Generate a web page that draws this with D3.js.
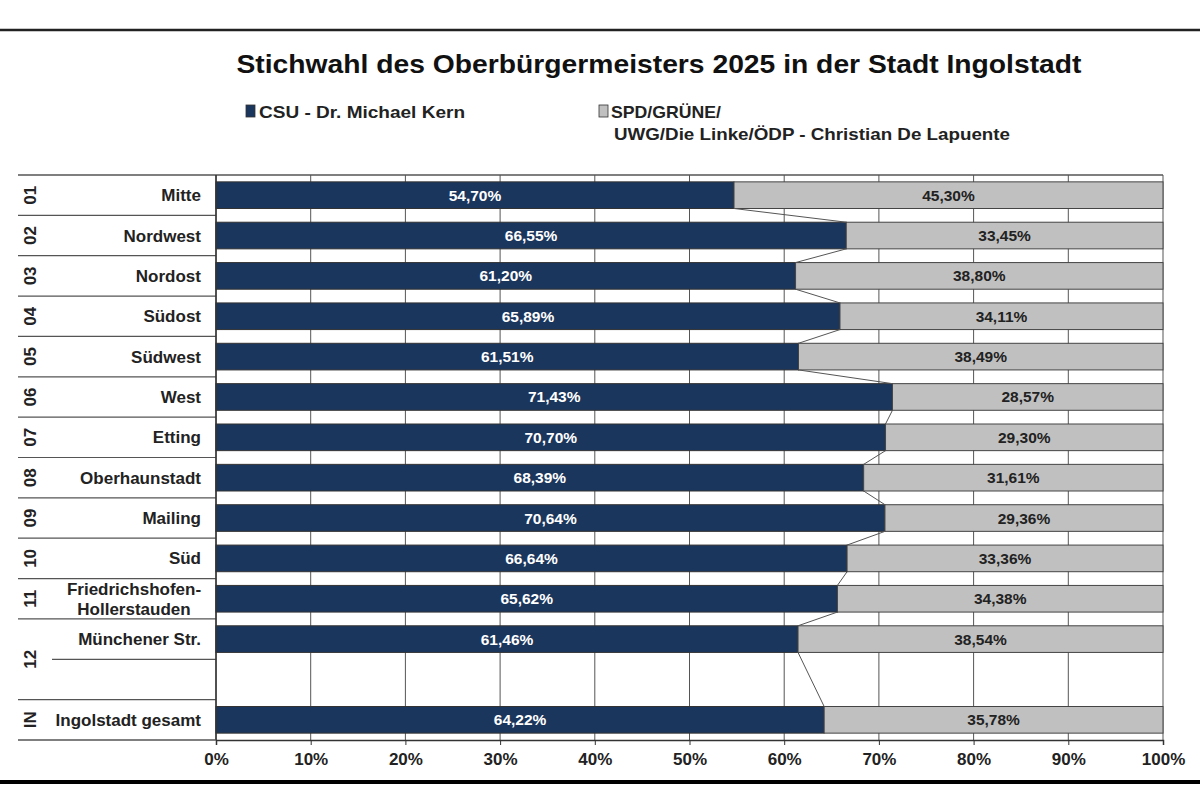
<!DOCTYPE html>
<html><head><meta charset="utf-8">
<script src="https://cdn.jsdelivr.net/npm/d3@7"></script>
<style>body{margin:0;background:#fff}svg{display:block}text{font-family:"Liberation Sans",Arial,sans-serif;font-weight:bold}</style>
</head><body>
<script>
const codes = ["01","02","03","04","05","06","07","08","09","10","11","12","IN"];
const names = ["Mitte","Nordwest","Nordost","Südost","Südwest","West","Etting","Oberhaunstadt","Mailing","Süd","Friedrichshofen-\nHollerstauden","Münchener Str.","Ingolstadt gesamt"];
const csu = [54.70,66.55,61.20,65.89,61.51,71.43,70.70,68.39,70.64,66.64,65.62,61.46,64.22];
const spd = [45.30,33.45,38.80,34.11,38.49,28.57,29.30,31.61,29.36,33.36,34.38,38.54,35.78];
const ticks = [0,10,20,30,40,50,60,70,80,90,100];
const slots = ["01","02","03","04","05","06","07","08","09","10","11","12","blank","IN"];

const W=1200,H=800;
const svg=d3.select("body").append("svg").attr("width",W).attr("height",H);
const navy="#1b365d", grey="#c0c0c0";

const x=d3.scaleLinear().domain([0,100]).range([216,1163]);
const y=d3.scaleBand().domain(slots).range([175,740]).padding(0);
const barPad=0.17;
const bh=y.bandwidth()*(1-2*barPad);
const by=c=>y(c)+y.bandwidth()*barPad;

// frame lines
svg.append("line").attr("x1",0).attr("x2",W).attr("y1",30).attr("y2",30).attr("stroke","#222").attr("stroke-width",2.5);
svg.append("line").attr("x1",0).attr("x2",W).attr("y1",782).attr("y2",782).attr("stroke","#000").attr("stroke-width",4);

// title
svg.append("text").attr("x",659).attr("y",73).attr("text-anchor","middle").attr("font-size",26).attr("fill","#111")
  .attr("textLength",845).attr("lengthAdjust","spacingAndGlyphs")
  .text("Stichwahl des Oberbürgermeisters 2025 in der Stadt Ingolstadt");

// legend
svg.append("rect").attr("x",246).attr("y",105).attr("width",9).attr("height",12).attr("fill",navy).attr("stroke","#333").attr("stroke-width",0.8);
svg.append("text").attr("x",259).attr("y",118).attr("font-size",17).attr("fill","#222")
  .attr("textLength",206).attr("lengthAdjust","spacingAndGlyphs").text("CSU - Dr. Michael Kern");
svg.append("rect").attr("x",599).attr("y",105).attr("width",9).attr("height",12).attr("fill",grey).attr("stroke","#333").attr("stroke-width",0.8);
svg.append("text").attr("x",611).attr("y",118).attr("font-size",17).attr("fill","#222")
  .attr("textLength",110).attr("lengthAdjust","spacingAndGlyphs").text("SPD/GRÜNE/");
svg.append("text").attr("x",614).attr("y",140).attr("font-size",17).attr("fill","#222")
  .attr("textLength",396).attr("lengthAdjust","spacingAndGlyphs").text("UWG/Die Linke/ÖDP - Christian De Lapuente");

// gridlines
svg.append("g").selectAll("line").data(ticks).join("line")
  .attr("x1",d=>x(d)).attr("x2",d=>x(d)).attr("y1",175).attr("y2",740)
  .attr("stroke","#555").attr("stroke-width",1);

// top line
svg.append("line").attr("x1",18).attr("x2",1163).attr("y1",175).attr("y2",175).attr("stroke","#555").attr("stroke-width",1.5);

// row separators in label area
const seps = slots.map(s=>y(s)+y.bandwidth()).slice(0,-1);
svg.append("g").selectAll("line").data(seps).join("line")
  .attr("x1",(d,i)=>slots[i]==="12"?52:18).attr("x2",216).attr("y1",d=>d).attr("y2",d=>d)
  .attr("stroke","#555").attr("stroke-width",1.2);

// bars
const rows = codes.map((c,i)=>({code:c,name:names[i],csu:csu[i],spd:spd[i]}));
const g=svg.append("g");
g.selectAll("rect.csu").data(rows).join("rect").attr("class","csu")
  .attr("x",x(0)).attr("y",d=>by(d.code)).attr("width",d=>x(d.csu)-x(0)).attr("height",bh)
  .attr("fill",navy).attr("stroke","#333").attr("stroke-width",1);
g.selectAll("rect.spd").data(rows).join("rect").attr("class","spd")
  .attr("x",d=>x(d.csu)).attr("y",d=>by(d.code)).attr("width",d=>x(d.csu+d.spd)-x(d.csu)).attr("height",bh)
  .attr("fill",grey).attr("stroke","#444").attr("stroke-width",1);

// connector lines
g.selectAll("line.conn").data(rows.slice(0,-1)).join("line").attr("class","conn")
  .attr("x1",d=>x(d.csu)).attr("y1",d=>by(d.code)+bh)
  .attr("x2",(d,i)=>x(rows[i+1].csu)).attr("y2",(d,i)=>by(rows[i+1].code))
  .attr("stroke","#555").attr("stroke-width",1);

// value labels
const fmt=v=>v.toFixed(2).replace(".",",")+"%";
g.selectAll("text.vc").data(rows).join("text").attr("class","vc")
  .attr("x",d=>(x(0)+x(d.csu))/2).attr("y",d=>by(d.code)+bh/2+5.5).attr("text-anchor","middle")
  .attr("font-size",15.5).attr("fill","#fff").text(d=>fmt(d.csu));
g.selectAll("text.vs").data(rows).join("text").attr("class","vs")
  .attr("x",d=>(x(d.csu)+x(100))/2).attr("y",d=>by(d.code)+bh/2+5.5).attr("text-anchor","middle")
  .attr("font-size",15.5).attr("fill","#222").text(d=>fmt(d.spd));

// category names
const nameG=svg.append("g");
rows.forEach(d=>{
  const lines=d.name.split("\n");
  const cy=by(d.code)+bh/2;
  const multi=lines.length>1;
  const ax0=multi?134:201;
  const t=nameG.append("text").attr("x",ax0).attr("text-anchor",multi?"middle":"end").attr("font-size",17).attr("fill","#222");
  lines.forEach((l,k)=>{
    t.append("tspan").attr("x",ax0).attr("y",cy+6+(k-(lines.length-1)/2)*20).text(l);
  });
});

// codes rotated
rows.forEach(d=>{
  let cy=y(d.code)+y.bandwidth()/2;
  if(d.code==="12") cy=y("12")+y.bandwidth();
  svg.append("text").attr("transform",`translate(36,${cy}) rotate(-90)`).attr("text-anchor","middle")
    .attr("font-size",17).attr("fill","#222").text(d.code);
});

// left axis
svg.append("line").attr("x1",216).attr("x2",216).attr("y1",175).attr("y2",740).attr("stroke","#333").attr("stroke-width",1.5);

// bottom axis
const ax=svg.append("g").attr("transform","translate(0,740)").call(d3.axisBottom(x).tickValues(ticks).tickSize(5).tickFormat(d=>d+"%"));
ax.select(".domain").attr("stroke","#333").attr("stroke-width",1.5);
ax.selectAll(".tick line").attr("stroke","#333");
ax.selectAll(".tick text").attr("font-size",17).attr("fill","#222").attr("font-family","Liberation Sans, Arial, sans-serif").attr("font-weight","bold").attr("dy","1.0em");
svg.append("line").attr("x1",18).attr("x2",216).attr("y1",740).attr("y2",740).attr("stroke","#555").attr("stroke-width",1.5);
</script>
</body></html>
